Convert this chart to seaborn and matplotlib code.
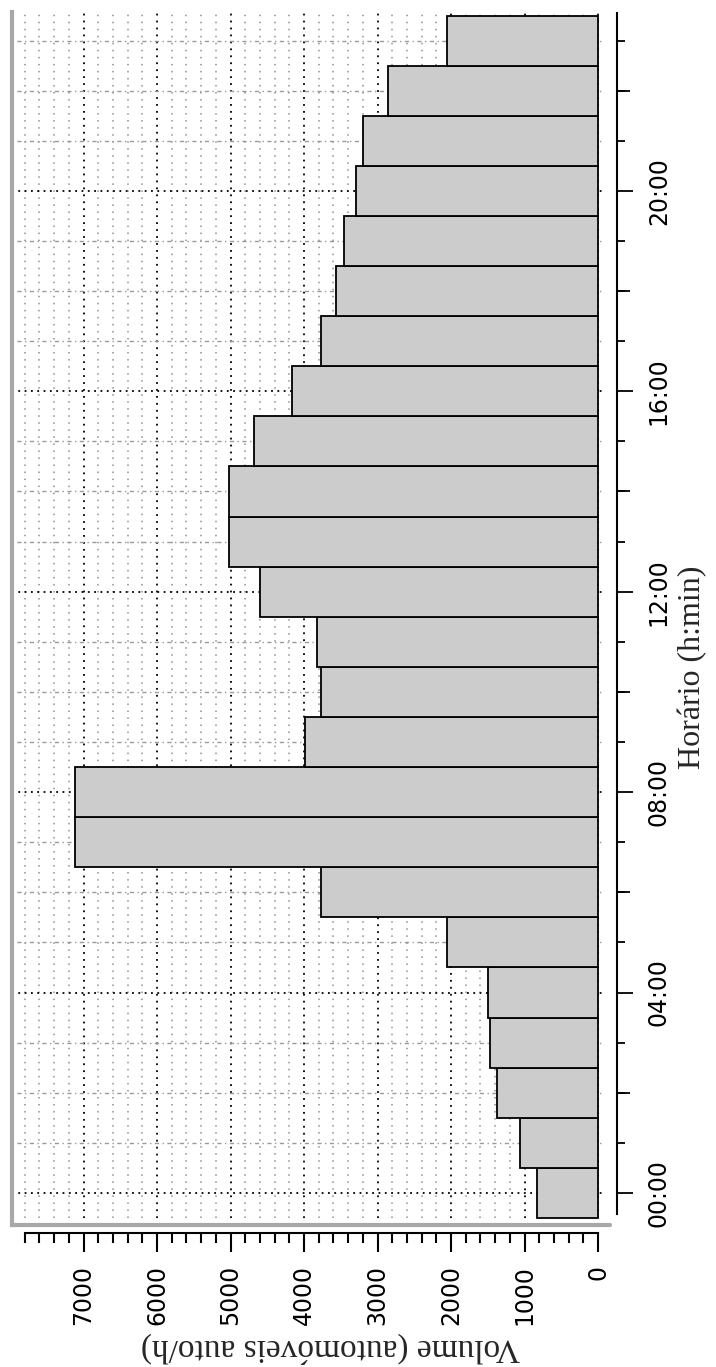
import matplotlib
matplotlib.use("Agg")
import matplotlib.pyplot as plt
from matplotlib.lines import Line2D
from matplotlib.ticker import MultipleLocator
import seaborn as sns
import pandas as pd

# hourly traffic volume (automóveis auto/h), bar centred on each hour
hours = list(range(24))
volume = [827, 1068, 1371, 1472, 1499, 2052, 3770, 7110, 7110, 3990, 3770, 3825,
          4595, 5018, 5018, 4683, 4161, 3766, 3558, 3450, 3290, 3200, 2860, 2050]
hour_labels = ["00:00", "04:00", "08:00", "12:00", "16:00", "20:00"]
hour_major = [0, 4, 8, 12, 16, 20]
hour_mid = [2, 6, 10, 14, 18, 22]
vol_ticks = list(range(0, 8000, 1000))

df = pd.DataFrame({"hora": hours, "volume": volume})

sns.set_style("white")
W, H = 716, 1367
fig = plt.figure(figsize=(W / 100, H / 100), dpi=100)

# plot area in pixels: left 12, right 603, top 12, bottom 1225
L, R, T, B = 12, 603, 12, 1225
ax = fig.add_axes([L / W, 1 - B / H, (R - L) / W, (B - T) / H])

sns.barplot(data=df, x="volume", y="hora", orient="h", native_scale=True,
            width=1.0, color="#cccccc", saturation=1, edgecolor="black",
            linewidth=1.3, errorbar=None, ax=ax, zorder=3)

ax.set_xlim(7973, -68)
ax.set_ylim(-0.64, 23.57)

# twin axis only carries the medium (2 h) ticks; create it first because
# twinx moves the parent's y ticks to the left
ax2 = ax.twinx()
ax2.set_ylim(ax.get_ylim())
for s in ["top", "left", "bottom", "right"]:
    ax2.spines[s].set_visible(False)
ax2.spines["right"].set_position(("outward", 10))
ax2.set_yticks(hour_mid)
ax2.set_yticklabels([])
ax2.tick_params(axis="y", which="major", left=False, right=True, length=9.4,
                width=1.3, color="black")
ax2.tick_params(axis="y", which="minor", left=False, right=False)

ax.set_xticks(vol_ticks)
ax.set_xticklabels([str(v) for v in vol_ticks])
ax.xaxis.set_minor_locator(MultipleLocator(200))
ax.set_yticks(hour_major)
ax.set_yticklabels(hour_labels)
ax.yaxis.set_minor_locator(MultipleLocator(1))

# grid
ax.set_axisbelow(True)
ax.grid(False)
ax.grid(axis="x", which="major", color="black", lw=1.3, ls=(0, (1, 2.85)), zorder=0)
ax.grid(axis="x", which="minor", color="#8f8f8f", lw=1.1, ls=(0, (1, 3.6)), zorder=0)
ax.grid(axis="y", which="major", color="black", lw=1.3, ls=(0, (1, 2.5)), zorder=0)
ax.grid(axis="y", which="minor", color="#9a9a9a", lw=1.0, ls=(0, (1, 2.5, 3, 2.5)), zorder=0)

# spines
ax.spines["top"].set_visible(False)
ax.spines["left"].set_color("#a8a8a8")
ax.spines["left"].set_linewidth(3)
ax.spines["bottom"].set_position(("outward", 5.8))
ax.spines["bottom"].set_bounds(0, 7800)
ax.spines["bottom"].set_linewidth(1.5)
ax.spines["bottom"].set_color("black")
ax.spines["right"].set_visible(True)
ax.spines["right"].set_position(("outward", 10))
ax.spines["right"].set_bounds(-0.42, 23.55)
ax.spines["right"].set_linewidth(1.5)
ax.spines["right"].set_color("black")

ax.tick_params(axis="x", which="both", bottom=True, top=False, labelbottom=True)
ax.tick_params(axis="x", which="major", length=14, width=1.5, pad=9,
               labelsize=17, labelrotation=90, colors="black")
ax.tick_params(axis="x", which="minor", length=7, width=1.5, color="black")
ax.tick_params(axis="y", which="both", left=False, right=True,
               labelleft=False, labelright=True)
ax.tick_params(axis="y", which="major", length=11.5, width=1.3, pad=10,
               labelsize=17, labelrotation=90, colors="black")
ax.tick_params(axis="y", which="minor", length=5.8, width=1.3, color="black")
for t in ax.get_yticklabels():
    t.set_va("center")
    t.set_family("DejaVu Sans")
for t in ax.get_xticklabels():
    t.set_family("DejaVu Sans")

# grey bottom frame line
fig.add_artist(Line2D([L / W, 610 / W], [1 - B / H, 1 - B / H],
                      transform=fig.transFigure, color="#a8a8a8", lw=3))

ax.set_xlabel("Volume (automóveis auto/h)", family="Liberation Serif", fontsize=24,
              rotation=180, va="center", ha="center")
ax.xaxis.set_label_coords((330 - L) / (R - L), (B - 1348) / (B - T))
ax.set_ylabel("")
fig.text(693 / W, 1 - 667 / H, "Horário (h:min)", family="Liberation Serif",
         fontsize=23, rotation=90, va="center", ha="center")

fig.savefig("out.png", dpi=100)
